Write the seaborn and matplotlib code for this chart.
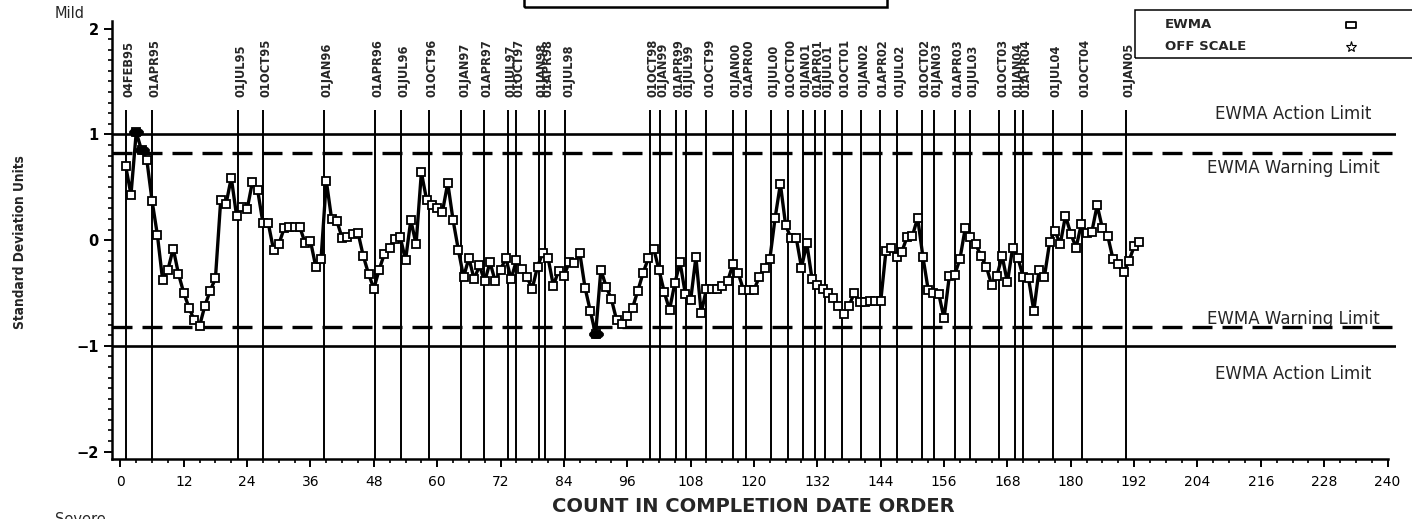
import os
import matplotlib
matplotlib.use("Agg")
import matplotlib.pyplot as plt
from matplotlib import font_manager
from matplotlib.font_manager import FontProperties
from matplotlib.path import Path
from matplotlib.patches import Rectangle
from matplotlib.lines import Line2D
from matplotlib.ticker import FixedLocator, MultipleLocator
from matplotlib.transforms import offset_copy, blended_transform_factory
import pandas as pd
import seaborn as sns

# EWMA statistic (standard deviation units), one value per completed item
ewma = [
    0.70, 0.43, 1.02, 0.85, 0.76, 0.37, 0.05, -0.38, -0.28, -0.08,
    -0.32, -0.50, -0.64, -0.76, -0.81, -0.62, -0.48, -0.36, 0.38, 0.34,
    0.59, 0.23, 0.31, 0.29, 0.55, 0.47, 0.16, 0.16, -0.09, -0.04,
    0.11, 0.12, 0.12, 0.12, -0.03, -0.01, -0.25, -0.18, 0.56, 0.20,
    0.18, 0.02, 0.03, 0.06, 0.07, -0.15, -0.32, -0.46, -0.28, -0.13,
    -0.07, 0.01, 0.03, -0.19, 0.19, -0.04, 0.64, 0.38, 0.33, 0.30,
    0.27, 0.54, 0.19, -0.09, -0.35, -0.17, -0.37, -0.24, -0.39, -0.21,
    -0.39, -0.28, -0.17, -0.37, -0.19, -0.27, -0.35, -0.46, -0.25, -0.12,
    -0.17, -0.43, -0.29, -0.34, -0.21, -0.22, -0.12, -0.45, -0.67, -0.89,
    -0.28, -0.44, -0.56, -0.76, -0.79, -0.72, -0.64, -0.48, -0.31, -0.17,
    -0.08, -0.28, -0.49, -0.66, -0.41, -0.21, -0.51, -0.57, -0.16, -0.69,
    -0.46, -0.46, -0.46, -0.43, -0.39, -0.23, -0.31, -0.47, -0.47, -0.47,
    -0.35, -0.26, -0.18, 0.21, 0.53, 0.14, 0.02, 0.02, -0.26, -0.03,
    -0.37, -0.42, -0.46, -0.50, -0.55, -0.62, -0.70, -0.62, -0.50, -0.59,
    -0.59, -0.58, -0.58, -0.58, -0.10, -0.07, -0.16, -0.11, 0.03, 0.04,
    0.21, -0.16, -0.47, -0.50, -0.51, -0.74, -0.34, -0.33, -0.18, 0.11,
    0.03, -0.04, -0.15, -0.25, -0.42, -0.34, -0.15, -0.40, -0.07, -0.17,
    -0.35, -0.36, -0.67, -0.28, -0.35, -0.02, 0.09, -0.04, 0.23, 0.06,
    -0.07, 0.15, 0.07, 0.08, 0.33, 0.11, 0.04, -0.18, -0.23, -0.30,
    -0.20, -0.06, -0.02,
]
count = list(range(1, len(ewma) + 1))

action_limit = 1.0
warning_limit = 0.82

# first count of each quarter
quarter_labels = [
    "04FEB95", "01APR95", "01JUL95", "01OCT95", "01JAN96", "01APR96", "01JUL96",
    "01OCT96", "01JAN97", "01APR97", "01JUL97", "01OCT97", "01JAN98", "01APR98",
    "01JUL98", "01OCT98", "01JAN99", "01APR99", "01JUL99", "01OCT99", "01JAN00",
    "01APR00", "01JUL00", "01OCT00", "01JAN01", "01APR01", "01JUL01", "01OCT01",
    "01JAN02", "01APR02", "01JUL02", "01OCT02", "01JAN03", "01APR03", "01JUL03",
    "01OCT03", "01JAN04", "01APR04", "01JUL04", "01OCT04", "01JAN05",
]
quarter_pos = [
    1.0, 5.9, 22.3, 27.0, 38.6, 48.2, 53.1, 58.5, 64.6, 68.9, 73.4, 74.9,
    79.3, 80.5, 84.3, 100.3, 102.2, 105.2, 107.1, 111.0, 116.1, 118.4, 123.2,
    126.4, 129.3, 131.6, 133.4, 136.7, 140.3, 143.9, 147.1, 151.9, 154.1,
    158.1, 160.9, 166.5, 169.5, 170.9, 176.7, 182.1, 190.4,
]

x_ticks = list(range(0, 241, 12))
y_ticks = [-2, -1, 0, 1, 2]

sns.set_style("ticks")
plt.rcParams["font.family"] = ["DejaVu Sans"]
plt.rcParams["axes.unicode_minus"] = True


def narrow_bold(size):
    """A condensed bold face if one is installed, else a compact bold one."""
    wanted = ("LiberationSansNarrow-Bold", "DejaVuSansCondensed-Bold",
              "RobotoCondensed-Bold", "OpenSans_Condensed-Bold",
              "OpenSansCondensed-Bold", "NotoSans-CondensedBold")
    for f in font_manager.fontManager.ttflist:
        base = os.path.basename(f.fname)
        if any(base.startswith(w) for w in wanted):
            return FontProperties(fname=f.fname, size=size)
    return FontProperties(family="Liberation Sans", weight="bold",
                          size=size * 0.84)


W, H = 1412, 519
fig = plt.figure(figsize=(W / 100, H / 100), dpi=100)


def fx(px):
    return px / W


def fy(py):
    return 1 - py / H


ax = fig.add_axes([fx(111.7), fy(459), fx(1396) - fx(111.7), fy(21.2) - fy(459)])
ax.set_xlim(-1.65, 241.6)
ax.set_ylim(-2.07, 2.07)

df = pd.DataFrame({"count": count, "ewma": ewma})
df["beyond"] = df["ewma"].abs() > warning_limit

# control limits
for lim in (action_limit, -action_limit):
    ax.axhline(lim, color="black", lw=1.9, zorder=2)
for lim in (warning_limit, -warning_limit):
    ax.axhline(lim, color="black", lw=2.4, ls=(0, (6, 3)), zorder=2)

# quarter reference lines and their labels
ax.vlines(quarter_pos, -2.07, 1.23, color="black", lw=1.4, zorder=2)
lab_font = narrow_bold(9.2)
lab_tr = offset_copy(ax.transData, fig=fig, x=2.2, y=0, units="points")
for pos, lab in zip(quarter_pos, quarter_labels):
    ax.text(pos, 1.35, lab, transform=lab_tr, rotation=90, ha="center",
            va="bottom", fontproperties=lab_font, clip_on=False)

# EWMA series
sns.lineplot(data=df, x="count", y="ewma", ax=ax, color="black", lw=2.4,
             marker="s", markersize=5.2, markerfacecolor="white",
             markeredgecolor="black", markeredgewidth=1.3,
             estimator=None, sort=False, zorder=5)

circle = Path.unit_circle()
ellipse = Path(circle.vertices * [1.75, 1.0], circle.codes)
sns.scatterplot(data=df[df["beyond"]], x="count", y="ewma", ax=ax,
                marker=ellipse, s=105, color="black", edgecolor="black",
                linewidth=0.5, zorder=6, legend=False)

# limit captions
cap_tr = blended_transform_factory(ax.transAxes, ax.transData)
captions = [
    (action_limit + 0.142, "EWMA Action Limit"),
    (warning_limit - 0.183, "EWMA Warning Limit"),
    (-warning_limit + 0.025, "EWMA Warning Limit"),
    (-action_limit - 0.318, "EWMA Action Limit"),
]
for yv, txt in captions:
    ax.text(0.92, yv, txt, transform=cap_tr, ha="center", va="baseline",
            fontsize=12, zorder=1)

# axes styling
ax.xaxis.set_major_locator(FixedLocator(x_ticks))
ax.xaxis.set_minor_locator(MultipleLocator(3))
ax.yaxis.set_major_locator(FixedLocator(y_ticks))
ax.yaxis.set_minor_locator(MultipleLocator(0.1))
ax.tick_params(which="major", length=5.5, width=1.4, direction="out",
               colors="black", pad=4)
ax.tick_params(which="minor", length=3.2, width=1.2, direction="out",
               colors="black")
ax.tick_params(axis="x", which="major", labelsize=10, pad=6)
ax.tick_params(axis="y", which="major", labelsize=10.5)
for t in ax.get_yticklabels():
    t.set_fontweight("bold")
ax.spines["top"].set_visible(False)
ax.spines["right"].set_visible(False)
for s in ("left", "bottom"):
    ax.spines[s].set_linewidth(1.8)
    ax.spines[s].set_color("black")
ax.spines["bottom"].set_bounds(-1.65, 240)
ax.set_xlabel("")
ax.set_ylabel("")

ylab_font = narrow_bold(9.8)
fig.text(fx(753), fy(506), "COUNT IN COMPLETION DATE ORDER", ha="center",
         va="center", fontsize=14, weight="heavy")
fig.text(fx(20), fy(242), "Standard Deviation Units", rotation=90,
         ha="center", va="center", fontproperties=ylab_font)
fig.text(fx(55), fy(14), "Mild", ha="left", va="center", fontsize=10.5)
fig.text(fx(55), fy(512), "Severe", ha="left", va="top", fontsize=10.5)

# title frame
fig.add_artist(Rectangle((fx(524), fy(6.7)), fx(887) - fx(524), 0.1,
                         transform=fig.transFigure, fill=False, lw=1.8,
                         ec="black", clip_on=False))

# symbol key
fig.add_artist(Rectangle((fx(1135), fy(57.6)), fx(1430) - fx(1135),
                         fy(9.5) - fy(57.6), transform=fig.transFigure,
                         fill=False, lw=1.1, ec="black", clip_on=False))
fig.text(fx(1165), fy(25), "EWMA", ha="left", va="center", fontsize=9.5,
         weight="bold")
fig.text(fx(1165), fy(47), "OFF SCALE", ha="left", va="center", fontsize=9.5,
         weight="bold")
square = Path([(-1.5, -1), (1.5, -1), (1.5, 1), (-1.5, 1), (-1.5, -1)],
              [Path.MOVETO, Path.LINETO, Path.LINETO, Path.LINETO,
               Path.CLOSEPOLY])
fig.add_artist(Line2D([fx(1351)], [fy(25)], marker=square, markersize=7.5,
                      markerfacecolor="white", markeredgecolor="black",
                      markeredgewidth=1.3, transform=fig.transFigure))
fig.add_artist(Line2D([fx(1351)], [fy(47)], marker="*", markersize=8,
                      markerfacecolor="white", markeredgecolor="black",
                      markeredgewidth=0.8, transform=fig.transFigure))

fig.savefig("out.png", dpi=100)
